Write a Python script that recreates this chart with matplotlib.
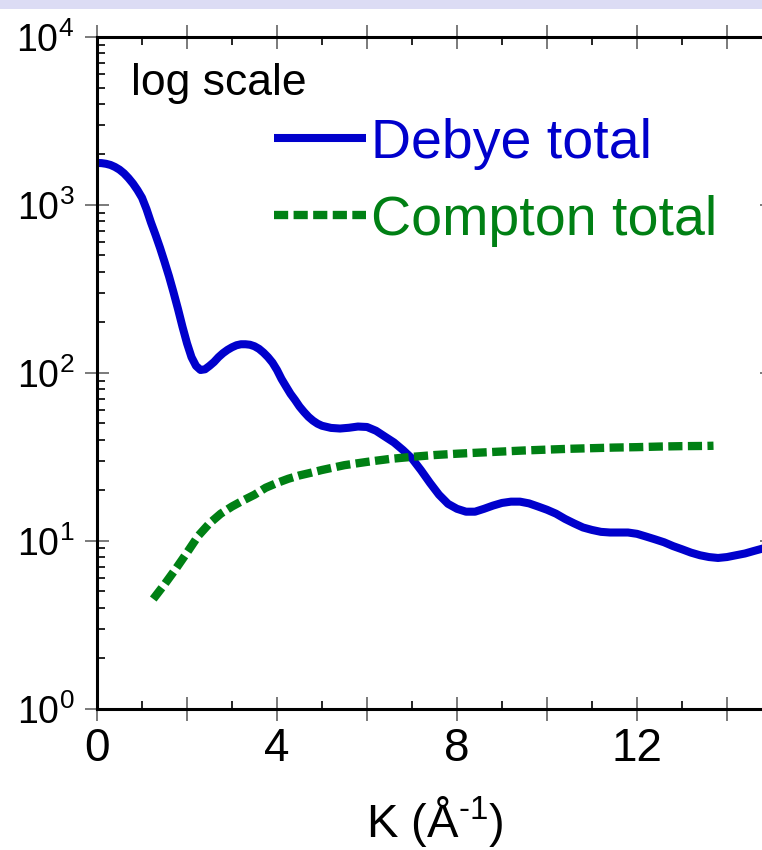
import numpy as np
import matplotlib
matplotlib.use('Agg')
import matplotlib.pyplot as plt
from matplotlib.ticker import LogLocator, FixedLocator, NullFormatter
from matplotlib.patches import Rectangle

plt.rcParams['font.family'] = ['Liberation Sans', 'DejaVu Sans']
plt.rcParams['mathtext.fontset'] = 'custom'
plt.rcParams['mathtext.rm'] = 'Liberation Sans'
plt.rcParams['mathtext.it'] = 'Liberation Sans:italic'
plt.rcParams['mathtext.default'] = 'regular'

# Debye total intensity vs K
k_debye = [0.0, 0.1, 0.2, 0.3, 0.4, 0.5, 0.6, 0.7, 0.8, 0.9,
           1.0, 1.1, 1.2, 1.3, 1.4, 1.5, 1.6, 1.7, 1.8, 1.9,
           2.0, 2.1, 2.2, 2.3, 2.4, 2.5, 2.6, 2.7, 2.8, 2.9,
           3.0, 3.1, 3.2, 3.3, 3.4, 3.5, 3.6, 3.7, 3.8, 3.9,
           4.0, 4.1, 4.2, 4.3, 4.4, 4.5, 4.6, 4.7, 4.8, 4.9,
           5.0, 5.2, 5.4, 5.6, 5.8,
           6.0, 6.2, 6.4, 6.6, 6.8, 7.0, 7.2, 7.4, 7.6, 7.8,
           8.0, 8.2, 8.4, 8.6, 8.8, 9.0, 9.2, 9.4, 9.6, 9.8,
           10.0, 10.2, 10.4, 10.6, 10.8, 11.0, 11.2, 11.4, 11.6, 11.8,
           12.0, 12.2, 12.4, 12.6, 12.8, 13.0, 13.2, 13.4, 13.6, 13.8,
           14.0, 14.2, 14.4, 14.6, 14.8, 15.0]
debye = [1778, 1774, 1758, 1730, 1683, 1622, 1542, 1445, 1340, 1225,
         1104, 944, 785, 664, 556, 459, 376, 302, 240, 188,
         150, 124, 110, 104, 105, 110, 116, 124, 131, 137,
         142, 146, 148, 148, 147, 144, 139, 132, 124, 115,
         104, 92, 83, 75, 69, 63, 58.5, 54.7, 51.9, 49.8,
         48.4, 47.0, 46.6, 47.1, 47.9,
         47.6, 45.2, 41.7, 38.5, 34.7, 30.9, 26.3, 22.1, 18.8, 16.6,
         15.5, 14.9, 14.9, 15.5, 16.2, 16.8, 17.1, 17.1, 16.7, 16.0,
         15.3, 14.5, 13.5, 12.7, 12.0, 11.6, 11.3, 11.2, 11.2, 11.2,
         11.0, 10.6, 10.2, 9.8, 9.3, 8.9, 8.5, 8.2, 8.0, 7.9,
         8.0, 8.2, 8.4, 8.7, 9.0, 9.3]

# Compton total intensity vs K
k_compton = [1.25, 1.5, 1.75, 2.0, 2.25, 2.5, 2.75, 3.0, 3.25, 3.5,
             3.75, 4.0, 4.25, 4.5, 4.75, 5.0, 5.5, 6.0, 6.5, 7.0,
             7.5, 8.0, 8.5, 9.0, 9.5, 10.0, 10.5, 11.0, 11.5, 12.0,
             12.5, 13.0, 13.5, 13.7]
compton = [4.5, 5.5, 6.8, 8.5, 10.7, 12.7, 14.5, 16.0, 17.4, 18.8,
           20.7, 22.1, 23.4, 24.5, 25.4, 26.4, 28.2, 29.5, 30.7, 31.6,
           32.4, 33.0, 33.5, 34.0, 34.5, 34.9, 35.3, 35.6, 35.9, 36.1,
           36.4, 36.6, 36.7, 36.8]

x_major = [0, 2, 4, 6, 8, 10, 12, 14]
x_labels = ['0', '', '4', '', '8', '', '12', '']
y_major = [1, 10, 100, 1000, 10000]

blue = '#0000cc'
green = '#008014'

fig = plt.figure(figsize=(7.62, 8.5), dpi=100)
fig.patches.append(Rectangle((0, 1 - 9 / 850), 1, 9 / 850, transform=fig.transFigure,
                             facecolor='#dcdcf4', edgecolor='none', zorder=0))
ax = fig.add_axes([97 / 762, 1 - 708.7 / 850, 675 / 762, 671.7 / 850])

ax.plot(k_debye, debye, color=blue, lw=5.8, solid_capstyle='butt',
        solid_joinstyle='round', label='Debye total')
ax.plot(k_compton, compton, color=green, lw=6.0, dashes=(1.7, 0.65),
        dash_capstyle='butt', dash_joinstyle='round', label='Compton total')

ax.set_yscale('log')
ax.set_xlim(0, 15)
ax.set_ylim(1, 10000)

ax.xaxis.set_major_locator(FixedLocator(x_major))
ax.set_xticklabels(x_labels)
ax.xaxis.set_minor_locator(FixedLocator([1, 3, 5, 7, 9, 11, 13, 15]))
ax.yaxis.set_major_locator(FixedLocator(y_major))
ax.set_yticklabels([r'$\mathregular{10^{%d}}$' % i for i in range(5)])
ax.yaxis.set_minor_locator(LogLocator(base=10, subs=np.arange(2, 10)))
ax.yaxis.set_minor_formatter(NullFormatter())

ax.tick_params(which='major', direction='inout', length=17, width=1.3, color='#707070',
               top=True, right=True)
ax.tick_params(which='minor', direction='in', length=6, width=1.2, color='black',
               top=True, right=True)
ax.tick_params(axis='x', which='major', labelsize=33, pad=5)
ax.tick_params(axis='y', which='major', labelsize=27, pad=8)
for s in ax.spines.values():
    s.set_linewidth(2.2)

ax.set_xlabel(r'K (Å$^{\text{-}1}$)', fontsize=34, labelpad=16)

ax.text(0.05, 0.9137, 'log scale', transform=ax.transAxes, fontsize=32,
        ha='left', va='baseline')

ax.legend(loc='upper left', bbox_to_anchor=(0.262, 0.88), frameon=False,
          fontsize=40, handlelength=1.66, handletextpad=0.08, labelspacing=0.45,
          borderpad=0, borderaxespad=0, labelcolor='linecolor')

fig.savefig('out.png', dpi=100)
